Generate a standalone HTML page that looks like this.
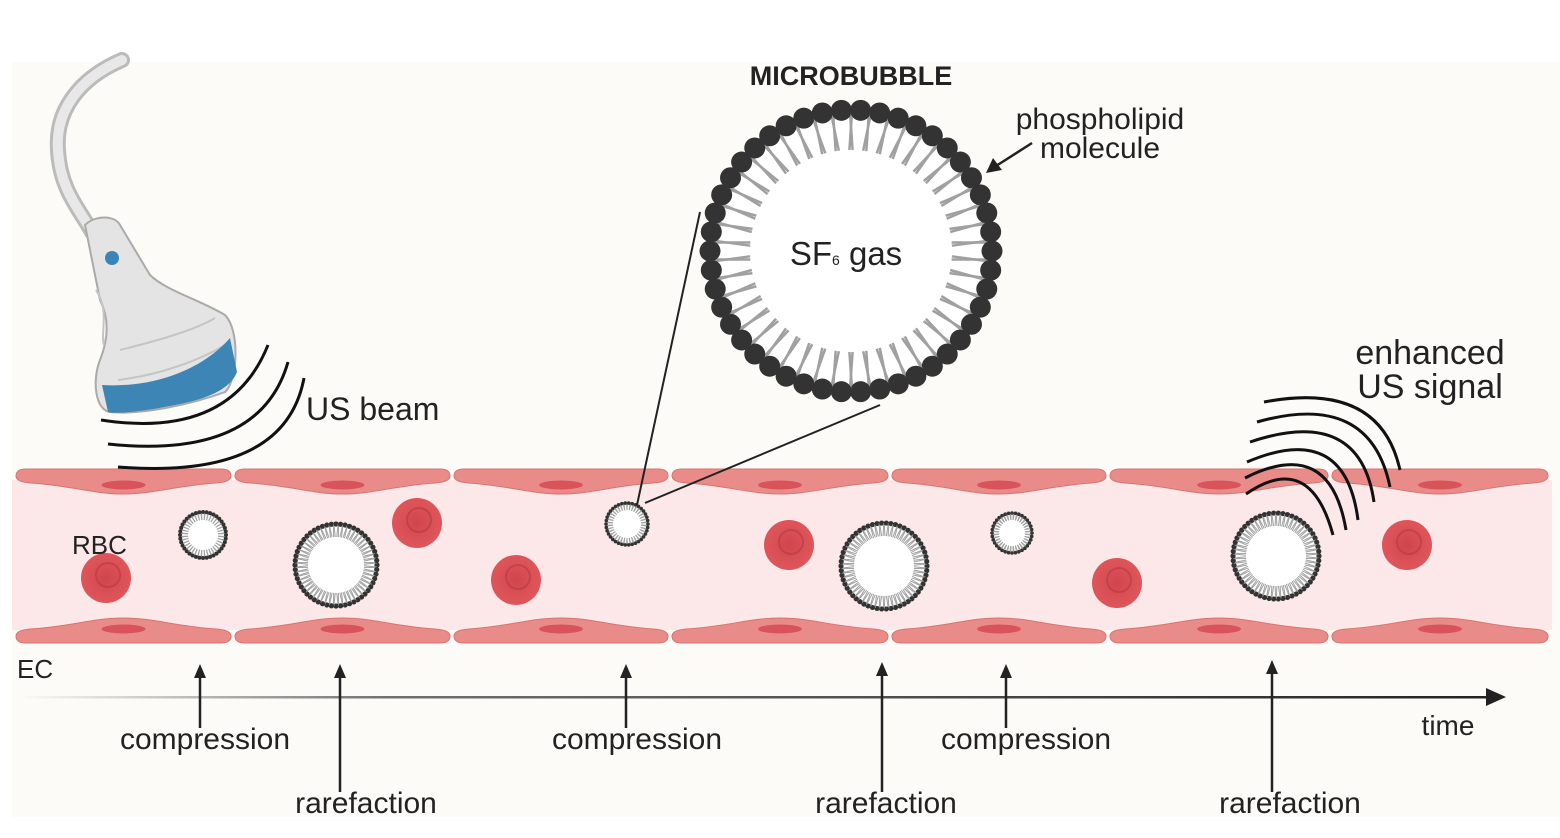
<!DOCTYPE html>
<html><head><meta charset="utf-8"><style>
html,body{margin:0;padding:0;background:#fff;}
svg{display:block;font-family:"Liberation Sans",sans-serif;}
</style></head><body>
<svg id="s" width="1560" height="838" viewBox="0 0 1560 838" xmlns="http://www.w3.org/2000/svg">
<defs>
<linearGradient id="tg" x1="0" x2="1"><stop offset="0" stop-color="#333" stop-opacity="0"/><stop offset="0.25" stop-color="#333" stop-opacity="0.7"/><stop offset="1" stop-color="#222"/></linearGradient>
<radialGradient id="rbc"><stop offset="0" stop-color="#d0454a"/><stop offset="0.6" stop-color="#d95056"/><stop offset="1" stop-color="#de555a"/></radialGradient>
</defs>
<rect x="12" y="62" width="1548" height="755" fill="#fdfbf7"/>
<rect x="12" y="480" width="1540" height="150" fill="#fce8e8"/>
<g id="walls"></g>
<g id="rbcs"></g>
<g id="bubbles"></g>
<line x1="637" y1="505" x2="700" y2="212" stroke="#222" stroke-width="2"/>
<line x1="645" y1="503" x2="880" y2="405" stroke="#222" stroke-width="2"/>
<g id="big"></g>
<text x="851" y="85" text-anchor="middle" font-size="27" font-weight="bold" fill="#222">MICROBUBBLE</text>
<text x="1100" y="129" text-anchor="middle" font-size="30" fill="#222">phospholipid</text>
<text x="1100" y="158" text-anchor="middle" font-size="30" fill="#222">molecule</text>
<line x1="1032" y1="143" x2="996" y2="166" stroke="#222" stroke-width="2.5"/>
<polygon points="986,173 993,158 1002,170" fill="#222"/>
<text x="846" y="265" text-anchor="middle" font-size="33" fill="#222">SF<tspan font-size="14">6</tspan> gas</text>
<!-- probe -->
<path d="M122,60 C80,78 55,110 58,150 C60,190 80,210 92,232" fill="none" stroke="#bbb" stroke-width="16" stroke-linecap="round"/>
<path d="M122,60 C80,78 55,110 58,150 C60,190 80,210 92,232" fill="none" stroke="#e8e8e8" stroke-width="10" stroke-linecap="round"/>
<path d="M85,225 C95,215 115,215 120,225 L150,275 C165,290 200,300 225,315 C240,330 238,380 225,392 C190,405 140,415 110,412 C95,410 92,380 100,360 C108,340 110,320 100,300 Z" fill="#e4e4e4" stroke="#aaa" stroke-width="2"/>
<path d="M96,290 C110,310 100,335 104,345" fill="none" stroke="#c5c5c5" stroke-width="2"/>
<path d="M120,350 C160,340 195,330 215,318" fill="none" stroke="#c5c5c5" stroke-width="2"/>
<path d="M118,380 C160,375 200,360 225,345" fill="none" stroke="#c5c5c5" stroke-width="2"/>
<path d="M102,385 C150,388 200,372 230,338 L237,372 C230,390 205,400 170,406 C140,412 115,414 108,412 Z" fill="#3d85b5"/>
<circle cx="112" cy="258" r="7" fill="#3a85b8"/>
<g fill="none" stroke="#111" stroke-width="3">
<path d="M101,420 Q230,440 268,345"/>
<path d="M108,444 Q260,460 288,362"/>
<path d="M118,467 Q285,480 304,378"/>
</g>
<text x="306" y="420" font-size="32" fill="#222">US beam</text>
<g fill="none" stroke="#111" stroke-width="3">
<path d="M1246,494 Q1310,450 1333,535"/>
<path d="M1245,478 Q1330,435 1346,530"/>
<path d="M1247,462 Q1345,420 1358,520"/>
<path d="M1250,442 Q1360,405 1374,502"/>
<path d="M1257,422 Q1370,390 1390,487"/>
<path d="M1264,402 Q1380,380 1400,470"/>
</g>
<text x="1430" y="364" text-anchor="middle" font-size="34" fill="#222">enhanced</text>
<text x="1430" y="398" text-anchor="middle" font-size="34" fill="#222">US signal</text>
<text x="72" y="554" font-size="26" fill="#222">RBC</text>
<text x="17" y="678" font-size="26" fill="#222">EC</text>
<rect x="20" y="696" width="1480" height="2.5" fill="url(#tg)"/>
<polygon points="1506,697 1486,688 1486,706" fill="#222"/>
<text x="1448" y="735" text-anchor="middle" font-size="28" fill="#222">time</text>
<g id="arrows"></g>
<g font-size="30" fill="#222" text-anchor="middle">
<text x="205" y="749">compression</text>
<text x="637" y="749">compression</text>
<text x="1026" y="749">compression</text>
<text x="366" y="813">rarefaction</text>
<text x="886" y="813">rarefaction</text>
<text x="1290" y="813">rarefaction</text>
</g>
</svg>
<script>
var NS="http://www.w3.org/2000/svg";
function el(p,t,a){var e=document.createElementNS(NS,t);for(var k in a)e.setAttribute(k,a[k]);p.appendChild(e);return e;}
var W=document.getElementById('walls');
var xs=[14,233,452,670,890,1108,1330,1550];
for(var i=0;i<7;i++){var a=xs[i]+2,b=xs[i+1]-2,m=(a+b)/2;
 el(W,'path',{d:'M'+a+',476 Q'+a+',469 '+(a+10)+',469 L'+(b-10)+',469 Q'+b+',469 '+b+',476 Q'+b+',482 '+(b-15)+',483 C'+(m+50)+',486 '+(m+30)+',494 '+m+',494 C'+(m-30)+',494 '+(m-50)+',486 '+(a+15)+',483 Q'+a+',482 '+a+',476 Z',fill:'#e98c89',stroke:'#d87470','stroke-width':1});
 el(W,'ellipse',{cx:m,cy:485,rx:22,ry:4.5,fill:'#d9545a'});
 el(W,'path',{d:'M'+a+',636 Q'+a+',643 '+(a+10)+',643 L'+(b-10)+',643 Q'+b+',643 '+b+',636 Q'+b+',630 '+(b-15)+',629 C'+(m+50)+',626 '+(m+30)+',618 '+m+',618 C'+(m-30)+',618 '+(m-50)+',626 '+(a+15)+',629 Q'+a+',630 '+a+',636 Z',fill:'#e98c89',stroke:'#d87470','stroke-width':1});
 el(W,'ellipse',{cx:m,cy:629,rx:22,ry:4.5,fill:'#d9545a'});
}
var R=document.getElementById('rbcs');
[[106,578],[417,523],[516,580],[789,545],[1117,583],[1407,545]].forEach(function(p){
 el(R,'circle',{cx:p[0],cy:p[1],r:25,fill:'url(#rbc)'});
 el(R,'circle',{cx:p[0]+2,cy:p[1]-3,r:12,fill:'none',stroke:'#b83a40','stroke-width':2,opacity:0.6});
});
function bubble(g,cx,cy,r,n,hr,tail,sw){
 el(g,'circle',{cx:cx,cy:cy,r:r,fill:'#fff'});
 for(var i=0;i<n;i++){var t=2*Math.PI*i/n,c=Math.cos(t),s=Math.sin(t);
  var d=0.06, r2=r-tail;
  el(g,'line',{x1:cx+r*Math.cos(t-d),y1:cy+r*Math.sin(t-d),x2:cx+r2*Math.cos(t-d*1.4),y2:cy+r2*Math.sin(t-d*1.4),stroke:'#a0a0a0','stroke-width':sw});
  el(g,'line',{x1:cx+r*Math.cos(t+d),y1:cy+r*Math.sin(t+d),x2:cx+r2*Math.cos(t+d*1.4),y2:cy+r2*Math.sin(t+d*1.4),stroke:'#a0a0a0','stroke-width':sw});
  el(g,'circle',{cx:cx+r*c,cy:cy+r*s,r:hr,fill:'#333'});
 }
}
var B=document.getElementById('bubbles');
bubble(B,203,535,23,40,2,8,1);
bubble(B,336,565,41,56,2.6,13,1);
bubble(B,627,524,21,38,1.8,7,1);
bubble(B,884,566,43,58,2.6,13,1);
bubble(B,1012,533,20,36,1.8,7,1);
bubble(B,1276,556,43,58,2.6,13,1);
bubble(document.getElementById('big'),851,251,141,46,10.5,40,2.5);
var A=document.getElementById('arrows');
[[200,728,664],[340,792,664],[626,728,664],[882,792,662],[1006,728,664],[1272,792,660]].forEach(function(p){
 el(A,'line',{x1:p[0],y1:p[1],x2:p[0],y2:p[2]+10,stroke:'#222','stroke-width':2.5});
 el(A,'polygon',{points:p[0]+','+p[2]+' '+(p[0]-6)+','+(p[2]+14)+' '+(p[0]+6)+','+(p[2]+14),fill:'#222'});
});
</script>
</body></html>
